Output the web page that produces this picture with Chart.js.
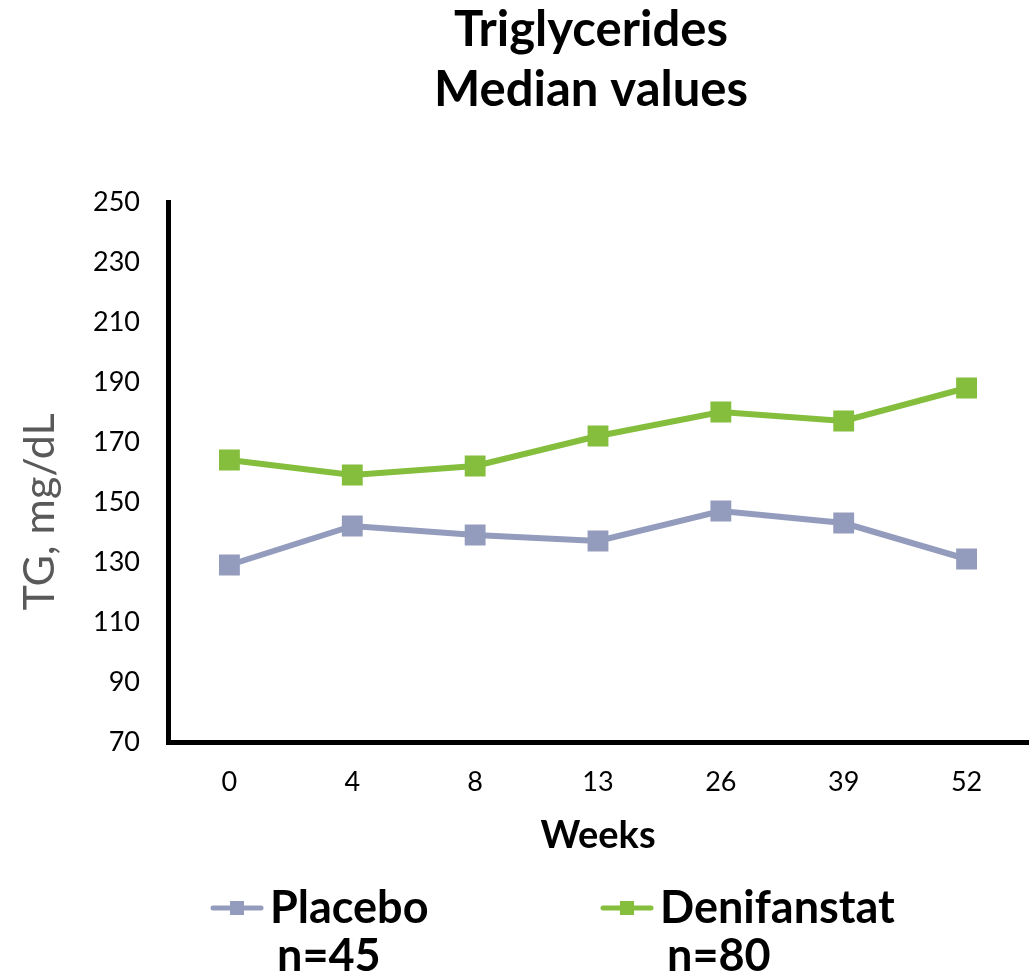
<!DOCTYPE html>
<html>
<head>
<meta charset="utf-8">
<script src="https://cdn.jsdelivr.net/npm/chart.js@4"></script>
<style>
  html, body { margin: 0; padding: 0; background: #fff; }
  #wrap { width: 1033px; height: 977px; }
</style>
</head>
<body>
<div id="wrap"><canvas id="tgChart" width="1033" height="977"></canvas></div>
<script>
// valores
const weeks = ['0', '4', '8', '13', '26', '39', '52'];
const placeboValues = [129, 142, 139, 137, 147, 143, 131];
const denifanstatValues = [164, 159, 162, 172, 180, 177, 188];
const titleLines = ['Triglycerides', 'Median values'];
const legendLabels = [['Placebo', 'n=45'], ['Denifanstat', 'n=80']];

const placeboColor = '#949CBD';
const greenColor = '#84BE3C';
const fontFam = 'Lato, "Open Sans", sans-serif';

// plugin para título, eje y leyenda dibujados a mano
const extras = {
    id: 'extras',
    afterDraw(chart) {
        const ctx = chart.ctx;
        ctx.save();
        ctx.fillStyle = '#000';
        ctx.textAlign = 'center';
        ctx.textBaseline = 'middle';
        ctx.font = 'bold 49px ' + fontFam;
        ctx.fillText(titleLines[0], 591, 30);
        ctx.fillText(titleLines[1], 591, 90);

        ctx.font = 'bold 38px ' + fontFam;
        ctx.fillText('Weeks', 598, 836);

        // título eje y
        ctx.save();
        ctx.translate(40, 512);
        ctx.rotate(-Math.PI / 2);
        ctx.fillStyle = '#595959';
        ctx.font = '43px ' + fontFam;
        ctx.fillText('TG, mg/dL', 0, 0);
        ctx.restore();

        // leyenda
        const items = [
            { x: 213, color: placeboColor, text: legendLabels[0] },
            { x: 603, color: greenColor, text: legendLabels[1] }
        ];
        items.forEach(it => {
            ctx.strokeStyle = it.color;
            ctx.lineWidth = 5;
            ctx.lineCap = 'round';
            ctx.beginPath();
            ctx.moveTo(it.x, 908);
            ctx.lineTo(it.x + 48, 908);
            ctx.stroke();
            ctx.fillStyle = it.color;
            ctx.fillRect(it.x + 17, 901, 14, 14);
            ctx.fillStyle = '#000';
            ctx.textAlign = 'left';
            ctx.font = 'bold 45px ' + fontFam;
            ctx.fillText(it.text[0], it.x + 57, 908);
            ctx.fillText(it.text[1], it.x + 64, 956);
        });
        ctx.restore();
    }
};

const ctx = document.getElementById('tgChart').getContext('2d');
const chart = new Chart(ctx, {
    type: 'line',
    data: {
        labels: weeks,
        datasets: [
            {
                label: 'Placebo',
                data: placeboValues,
                borderColor: placeboColor,
                backgroundColor: placeboColor,
                borderWidth: 6,
                pointStyle: 'rect',
                pointRadius: 10.5,
                pointHoverRadius: 10.5,
                tension: 0
            },
            {
                label: 'Denifanstat',
                data: denifanstatValues,
                borderColor: greenColor,
                backgroundColor: greenColor,
                borderWidth: 6,
                pointStyle: 'rect',
                pointRadius: 10.5,
                pointHoverRadius: 10.5,
                tension: 0
            }
        ]
    },
    options: {
        responsive: false,
        animation: false,
        layout: { autoPadding: false, padding: { top: 202, right: 5, left: 0, bottom: 0 } },
        plugins: {
            legend: { display: false },
            title: { display: false },
            tooltip: { enabled: false }
        },
        scales: {
            x: {
                offset: true,
                grid: { display: false, drawTicks: false },
                border: { display: true, color: '#000', width: 5 },
                ticks: { color: '#000', padding: 24, font: { family: fontFam, size: 27 } },
                afterFit(scale) {
                    scale.height = 235;
                    scale.paddingLeft = 0;
                    scale.paddingRight = 0;
                }
            },
            y: {
                min: 70,
                max: 250,
                grid: { display: false, drawTicks: false },
                border: { display: true, color: '#000', width: 5 },
                ticks: { stepSize: 20, color: '#000', padding: 28, font: { family: fontFam, size: 27 } },
                afterFit(scale) { scale.width = 168; }
            }
        }
    },
    plugins: [extras]
});
</script>
</body>
</html>
